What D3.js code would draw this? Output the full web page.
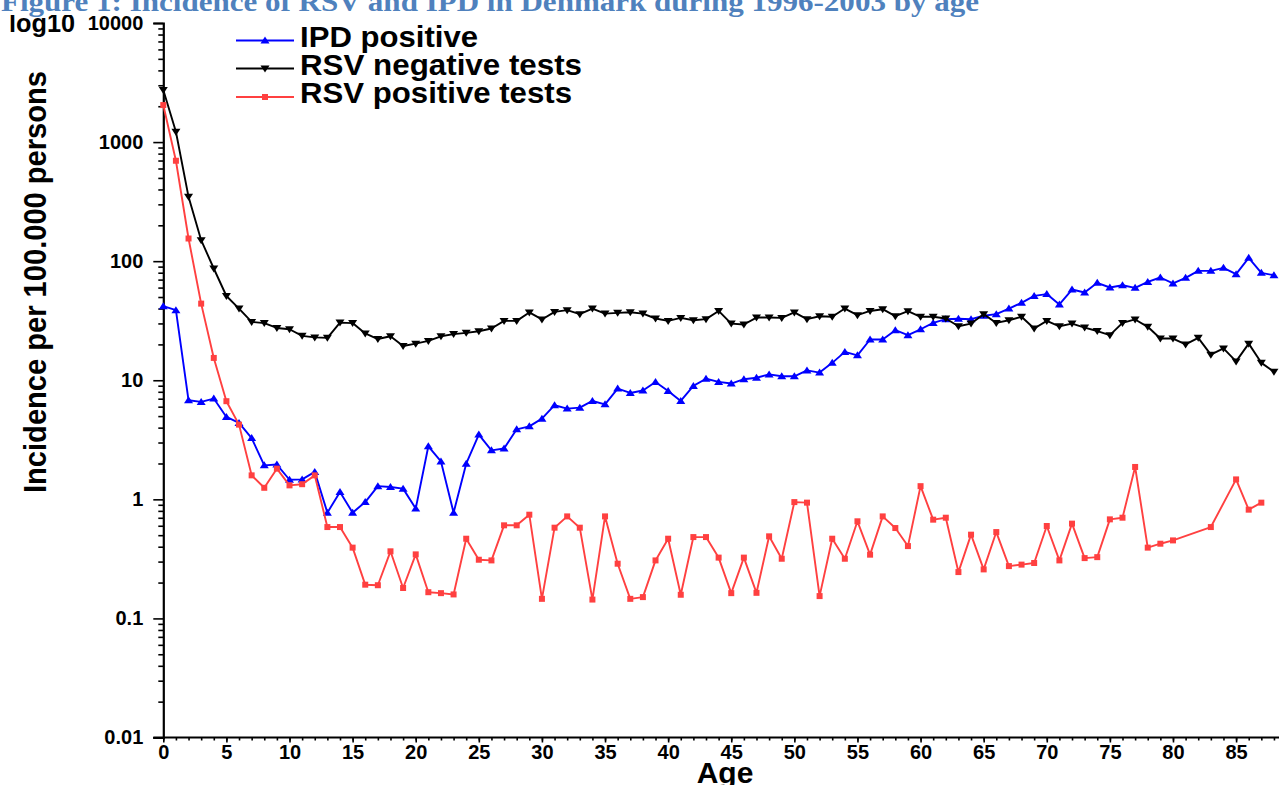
<!DOCTYPE html>
<html>
<head>
<meta charset="utf-8">
<script src="https://cdn.jsdelivr.net/npm/d3@7"></script>
<style>
  html, body { margin: 0; padding: 0; background: #fff; }
  svg { display: block; }
  text { font-family: "Liberation Sans", Arial, sans-serif; font-weight: bold; fill: #000; }
</style>
</head>
<body>
<svg id="chart" width="1279" height="785"></svg>
<script>
// Age in years (0..88)
const ages = [0,1,2,3,4,5,6,7,8,9,10,11,12,13,14,15,16,17,18,19,20,21,22,23,24,25,26,27,28,29,
  30,31,32,33,34,35,36,37,38,39,40,41,42,43,44,45,46,47,48,49,50,51,52,53,54,55,56,57,58,59,
  60,61,62,63,64,65,66,67,68,69,70,71,72,73,74,75,76,77,78,79,80,81,82,83,84,85,86,87,88];

// Incidence per 100.000 persons, IPD positive
const ipdPositive = [41.9,38.8,6.79,6.58,7.02,4.92,4.38,3.27,1.93,1.96,1.46,1.47,1.70,0.773,1.15,0.773,0.949,1.29,1.27,1.23,
  0.836,2.79,2.08,0.773,1.99,3.50,2.58,2.67,3.87,4.10,4.76,6.17,5.78,5.89,6.70,6.28,8.51,7.82,8.2,9.68,
  8.13,6.70,8.96,10.3,9.68,9.38,10.2,10.5,11.2,10.8,10.8,12.1,11.6,14.0,17.3,16.2,22.0,22.0,26.3,23.9,
  26.8,30.3,32.6,32.8,32.6,34.8,35.9,40.0,44.7,51.1,52.9,43.3,57.8,54.6,65.8,60.1,62.8,59.7,67.0,72.9,
  65.0,72.4,82.9,82.9,87.9,77.8,106.7,79.8,76.2];

// Incidence per 100.000 persons, RSV negative tests
const rsvNegative = [2735,1220,347,150,86.8,51,40,30.9,30.2,27.5,26.8,23.6,22.9,22.7,30.5,30.2,24.7,22.2,23.4,19.4,
  20.3,21.4,23.4,24.4,25.0,25.8,27.2,31.5,31.5,37.1,32.4,37.5,38.8,35.9,40.0,36.3,36.8,37.2,36.3,33.0,
  31.5,33.4,31.9,32.6,38.2,29.9,29.4,33.6,33.6,33.4,37.1,32.6,34.5,34.1,40.0,35.2,38.2,39.5,34.5,38.0,
  34.1,34.1,33.0,28.4,29.9,35.9,30.3,31.9,34.1,27.2,31.5,28.4,29.9,27.7,25.9,23.9,30.3,32.4,28.1,22.4,
  22.4,20.0,22.7,16.4,18.5,14.4,20.3,14.0,11.8];

// Incidence per 100.000 persons, RSV positive tests (null = no value for that age)
const rsvPositive = [2046,697,155,44,15.4,6.67,4.24,1.59,1.25,1.81,1.31,1.34,1.59,0.585,0.585,0.393,0.192,0.19,0.366,0.180,
  0.345,0.166,0.163,0.159,0.467,0.311,0.307,0.605,0.605,0.743,0.146,0.578,0.719,0.578,0.144,0.719,0.288,0.146,0.151,0.307,
  0.467,0.158,0.482,0.482,0.324,0.163,0.324,0.164,0.489,0.317,0.948,0.938,0.154,0.467,0.317,0.654,0.343,0.719,0.574,0.405,
  1.29,0.675,0.701,0.245,0.505,0.258,0.531,0.275,0.283,0.292,0.597,0.307,0.625,0.321,0.327,0.679,0.701,1.87,0.393,0.424,
  0.452,null,null,0.585,null,1.47,0.819,0.938,null];

const seriesNames = ["IPD positive", "RSV negative tests", "RSV positive tests"];
const yTickValues = [0.01, 0.1, 1, 10, 100, 1000, 10000];
const yTickLabels = ["0.01", "0.1", "1", "10", "100", "1000", "10000"];
const xTickValues = [0,5,10,15,20,25,30,35,40,45,50,55,60,65,70,75,80,85];

const svg = d3.select("#chart");

// Scales
const x = d3.scaleLinear().domain([0, 88.4]).range([163.3, 1279]);
const y = d3.scaleLog().domain([0.01, 10000]).range([737.5, 23]);

// Y axis: decade ticks with labels, log minor ticks without
const yMinor = [];
yTickValues.slice(0, -1).forEach(d => { for (let k = 2; k <= 9; k++) yMinor.push(d * k); });

const yAxisG = svg.append("g").attr("transform", `translate(${x(0)},0)`);
yAxisG.call(d3.axisLeft(y).tickValues(yMinor).tickSize(5).tickFormat(""))
  .call(g => g.select(".domain").remove());
yAxisG.append("g").call(d3.axisLeft(y).tickValues(yTickValues).tickSize(10).tickPadding(10)
    .tickFormat((d, i) => yTickLabels[i]))
  .call(g => g.selectAll("text").style("font-size", "20px").style("font-family", '"Liberation Sans", Arial, sans-serif').style("font-weight", "bold"));
yAxisG.selectAll("line").attr("stroke", "#000").attr("stroke-width", 1.6);
yAxisG.selectAll(".domain").attr("stroke", "#000").attr("stroke-width", 2.2);

// X axis
const xAxisG = svg.append("g").attr("transform", `translate(0,${y(0.01)})`);
xAxisG.call(d3.axisBottom(x).tickValues(ages).tickSize(3).tickFormat(""))
  .call(g => g.select(".domain").remove());
xAxisG.append("g").call(d3.axisBottom(x).tickValues(xTickValues).tickSize(5).tickPadding(2).tickSizeOuter(0))
  .call(g => g.selectAll("text").style("font-size", "20px").style("font-family", '"Liberation Sans", Arial, sans-serif').style("font-weight", "bold"));
xAxisG.selectAll("line").attr("stroke", "#000").attr("stroke-width", 1.6);
xAxisG.selectAll(".domain").attr("stroke", "#000").attr("stroke-width", 2.2)
  .attr("d", `M${x(0) - 10},0H1279`);

// Series
const series = [
  { name: seriesNames[0], values: ipdPositive, color: "#0000ff", marker: "up" },
  { name: seriesNames[1], values: rsvNegative, color: "#000000", marker: "down" },
  { name: seriesNames[2], values: rsvPositive, color: "#ff4040", marker: "square" }
];

function markerPath(type) {
  if (type === "up") return "M0,-4L4.5,3L-4.5,3Z";
  if (type === "down") return "M0,4L4.5,-3L-4.5,-3Z";
  return "M-3,-3H3V3H-3Z";
}

const line = d3.line().x(d => x(d.age)).y(d => y(d.v));

series.forEach(s => {
  const pts = ages.map((a, i) => ({ age: a, v: s.values[i] })).filter(d => d.v != null);
  const g = svg.append("g");
  g.append("path").datum(pts).attr("d", line)
    .attr("fill", "none").attr("stroke", s.color).attr("stroke-width", 1.9).attr("stroke-linejoin", "round");
  g.selectAll("path.m").data(pts).join("path").attr("class", "m")
    .attr("d", markerPath(s.marker))
    .attr("transform", d => `translate(${x(d.age)},${y(d.v)})`)
    .attr("fill", s.color);
});

// Legend
const legendY = [40.5, 68.5, 97];
const legendBase = [47, 75, 103];
const legendLen = [178, 282, 272];
series.forEach((s, i) => {
  const g = svg.append("g");
  g.append("line").attr("x1", 236).attr("x2", 294).attr("y1", legendY[i]).attr("y2", legendY[i])
    .attr("stroke", s.color).attr("stroke-width", 1.9);
  g.append("path").attr("d", markerPath(s.marker))
    .attr("transform", `translate(265,${legendY[i]})`).attr("fill", s.color);
  g.append("text").attr("x", 300).attr("y", legendBase[i])
    .attr("textLength", legendLen[i]).attr("lengthAdjust", "spacingAndGlyphs")
    .style("font-size", "30px").text(s.name);
});

// Axis titles
svg.append("text")
  .attr("transform", "translate(46,282) rotate(-90)")
  .attr("text-anchor", "middle")
  .attr("textLength", 422).attr("lengthAdjust", "spacingAndGlyphs")
  .style("font-size", "32px")
  .text("Incidence per 100.000 persons");

svg.append("text").attr("x", 725).attr("y", 783).attr("text-anchor", "middle")
  .style("font-size", "30px").text("Age");

svg.append("text").attr("x", 9).attr("y", 32)
  .attr("textLength", 66).attr("lengthAdjust", "spacingAndGlyphs")
  .style("font-size", "25px").text("log10");

// Figure caption strip along the top
svg.append("rect").attr("x", 0).attr("y", 0).attr("width", 1000).attr("height", 15).attr("fill", "#fff");
svg.append("text").attr("x", 1).attr("y", 11)
  .attr("textLength", 978).attr("lengthAdjust", "spacingAndGlyphs")
  .style("font-family", '"Liberation Serif", Cambria, serif')
  .style("font-size", "27px").style("fill", "#4f81bd")
  .text("Figure 1: Incidence of RSV and IPD in Denmark during 1996-2003 by age");
</script>
</body>
</html>
